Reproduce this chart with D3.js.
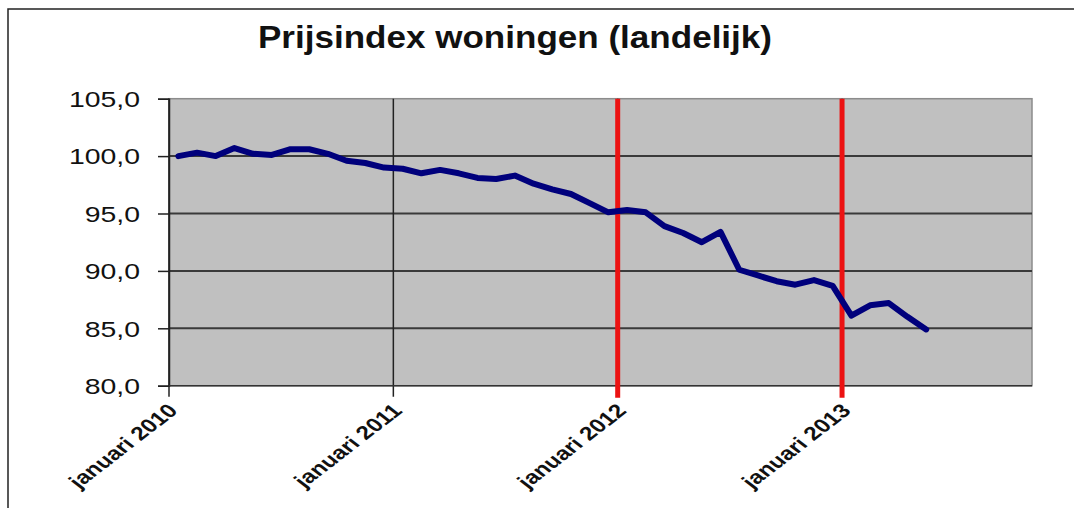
<!DOCTYPE html>
<html>
<head>
<meta charset="utf-8">
<script src="https://cdn.jsdelivr.net/npm/d3@7"></script>
<style>
  body { margin: 0; background: #fff; }
  svg { display: block; }
  text { font-family: "Liberation Sans", Arial, sans-serif; fill: #111; }
</style>
</head>
<body>
<svg id="chart" width="1090" height="508"></svg>
<script>
// categories: one per month on the (category) x axis, jan 2010 .. okt 2013
var months = [
  "2010-01","2010-02","2010-03","2010-04","2010-05","2010-06","2010-07","2010-08","2010-09","2010-10","2010-11","2010-12",
  "2011-01","2011-02","2011-03","2011-04","2011-05","2011-06","2011-07","2011-08","2011-09","2011-10","2011-11","2011-12",
  "2012-01","2012-02","2012-03","2012-04","2012-05","2012-06","2012-07","2012-08","2012-09","2012-10","2012-11","2012-12",
  "2013-01","2013-02","2013-03","2013-04","2013-05","2013-06","2013-07","2013-08","2013-09","2013-10"
];

// price index, jan 2010 .. mei 2013
var index = [
  100.0, 100.3, 100.0, 100.7, 100.2, 100.1, 100.6, 100.6, 100.2, 99.6, 99.4, 99.0,
  98.9, 98.5, 98.8, 98.5, 98.1, 98.0, 98.3, 97.6, 97.1, 96.7, 95.9, 95.1,
  95.3, 95.1, 93.9, 93.3, 92.5, 93.4, 90.1, 89.6, 89.1, 88.8, 89.2, 88.7,
  86.1, 87.0, 87.2, 86.0, 84.9
];

var yTicks = [80, 85, 90, 95, 100, 105];
var tickMonths = ["2010-01", "2011-01", "2012-01", "2013-01"];
var tickLabels = ["januari 2010", "januari 2011", "januari 2012", "januari 2013"];
var redMonths = ["2012-01", "2013-01"];
var title = "Prijsindex woningen (landelijk)";

var svg = d3.select("#chart");
var plotL = 169, plotR = 1032, plotT = 98.7, plotB = 385.7;
var stretch = 1.29; // the original picture is widened, text too

// the month bands end a little short of the plot's right edge
var x = d3.scaleBand().domain(months).range([plotL, 1029]);
var y = d3.scaleLinear().domain([80, 105]).range([plotB, plotT]);
var fmt = d3.formatLocale({decimal: ",", thousands: ".", grouping: [3], currency: ["", ""]}).format(".1f");

// outer frame (top + left only visible)
svg.append("path")
  .attr("d", "M8,509V9H1074")
  .attr("fill", "none").attr("stroke", "#222").attr("stroke-width", 1.5);

// title
svg.append("text")
  .attr("x", 515).attr("y", 48)
  .attr("text-anchor", "middle")
  .attr("font-size", 31).attr("font-weight", "bold")
  .attr("textLength", 514).attr("lengthAdjust", "spacingAndGlyphs")
  .text(title);

// plot area
svg.append("rect")
  .attr("x", plotL).attr("y", plotT)
  .attr("width", plotR - plotL).attr("height", plotB - plotT)
  .attr("fill", "#c0c0c0").attr("stroke", "#8c8c8c").attr("stroke-width", 1.5);

// horizontal gridlines
svg.append("g").selectAll("line")
  .data(yTicks.filter(function(d) { return d > 80 && d < 105; }))
  .enter().append("line")
  .attr("x1", plotL).attr("x2", plotR)
  .attr("y1", function(d) { return y(d); }).attr("y2", function(d) { return y(d); })
  .attr("stroke", "#3a3a3a").attr("stroke-width", 2);

// vertical year lines (with tick below axis)
svg.append("g").selectAll("line")
  .data(tickMonths)
  .enter().append("line")
  .attr("x1", function(d) { return x(d); }).attr("x2", function(d) { return x(d); })
  .attr("y1", plotT).attr("y2", plotB + 11)
  .attr("stroke", "#222").attr("stroke-width", 1.5);

// y axis
var yAxis = svg.append("g")
  .attr("transform", "translate(" + plotL + ",0)")
  .call(d3.axisLeft(y).tickValues(yTicks).tickSize(11).tickFormat(fmt));
yAxis.select(".domain").attr("stroke", "#222").attr("stroke-width", 1.5);
yAxis.selectAll(".tick line").attr("stroke", "#222").attr("stroke-width", 1.5);
yAxis.selectAll(".tick text").remove();
yAxis.selectAll(".tick").append("text")
  .attr("transform", "translate(-29,0) scale(" + stretch + ",1)")
  .attr("text-anchor", "end").attr("dy", "0.35em")
  .attr("font-size", 22).attr("fill", "#1a1a1a")
  .text(function(d) { return fmt(d); });

// x axis line
svg.append("line")
  .attr("x1", plotL).attr("x2", plotR).attr("y1", plotB).attr("y2", plotB)
  .attr("stroke", "#333").attr("stroke-width", 1.5);

// x tick labels, rotated
svg.append("g").selectAll("text")
  .data(tickMonths)
  .enter().append("text")
  .attr("transform", function(d) {
    return "translate(" + (x(d) + 10) + "," + (plotB + 26) + ") scale(" + stretch + ",1) rotate(-45)";
  })
  .attr("text-anchor", "end")
  .attr("font-size", 19).attr("font-weight", "bold")
  .text(function(d, i) { return tickLabels[i]; });

// red marker lines
svg.append("g").selectAll("line")
  .data(redMonths)
  .enter().append("line")
  .attr("x1", function(d) { return x(d); }).attr("x2", function(d) { return x(d); })
  .attr("y1", plotT).attr("y2", plotB + 12)
  .attr("stroke", "#ec1212").attr("stroke-width", 5);

// index line
var line = d3.line()
  .x(function(d, i) { return x(months[i]) + x.bandwidth() / 2; })
  .y(function(d) { return y(d); });

svg.append("path")
  .datum(index)
  .attr("d", line)
  .attr("fill", "none")
  .attr("stroke", "#00007c")
  .attr("stroke-width", 6)
  .attr("stroke-linejoin", "round")
  .attr("stroke-linecap", "round");
</script>
</body>
</html>
